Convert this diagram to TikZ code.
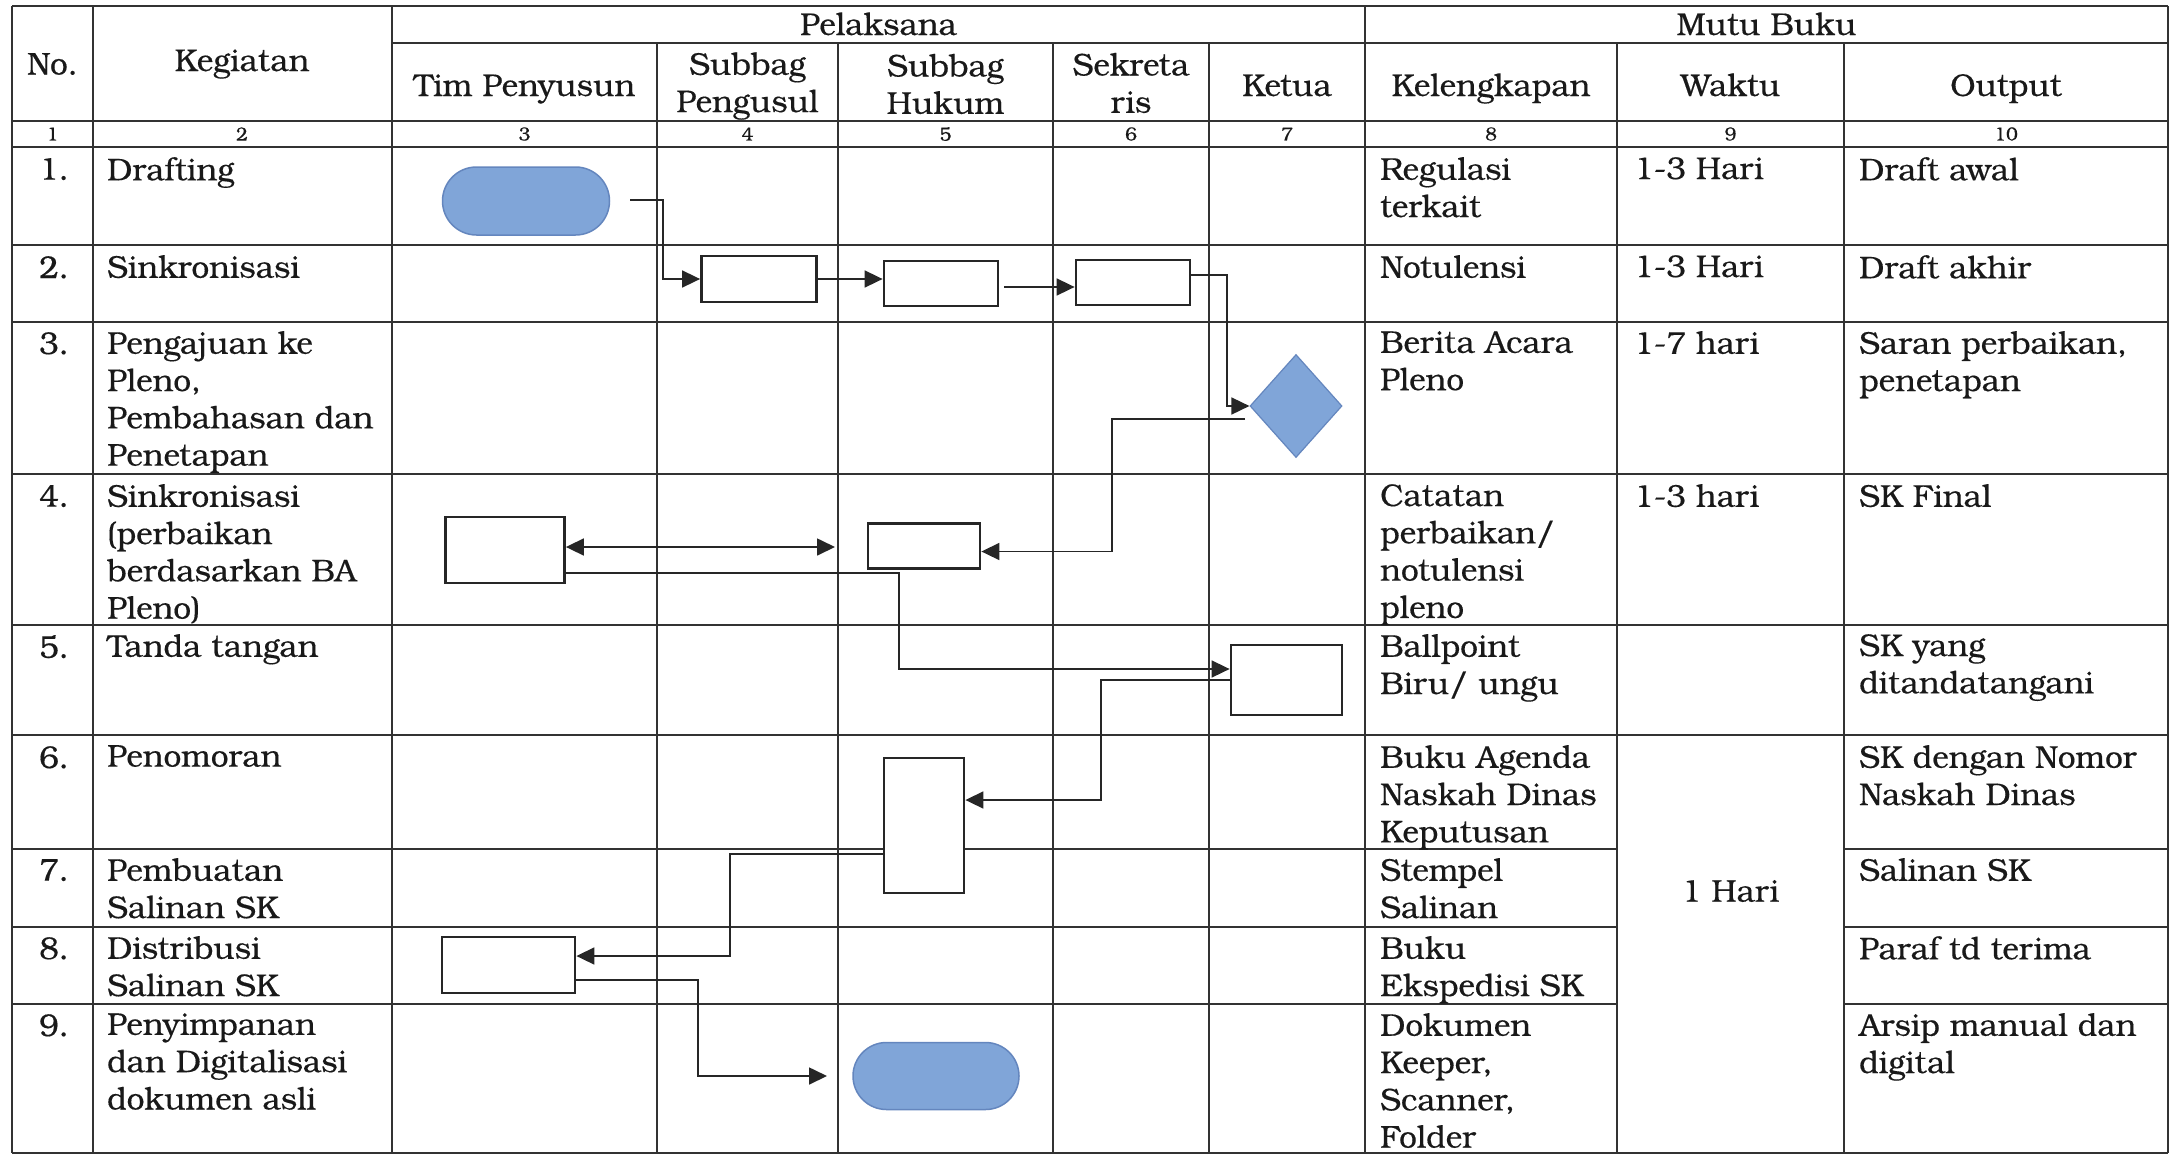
\documentclass[tikz,border=0pt]{standalone}
\usepackage{fontspec}
\setmainfont{TeX Gyre Bonum}[FakeBold=0.35]
\usetikzlibrary{arrows.meta,shapes.geometric,shapes.misc}
\definecolor{termblue}{RGB}{128,165,216}
\definecolor{termedge}{RGB}{100,134,190}
\definecolor{gridcol}{RGB}{50,50,50}
\definecolor{inkcol}{RGB}{25,25,25}
\newcommand{\myfnt}{\fontsize{31.5}{37.3}\selectfont}
\newcommand{\mysmallfnt}{\fontsize{19}{21}\selectfont}
\begin{document}
\begin{tikzpicture}[x=1pt,y=-1pt,
  gridline/.style={line width=1.6pt, draw=gridcol},
  txt/.style={anchor=north west, inner sep=0pt, align=left, font=\myfnt, text=inkcol},
  numtxt/.style={anchor=north, inner sep=0pt, align=center, font=\myfnt, text=inkcol},
  hdr/.style={anchor=center, inner sep=0pt, align=center, font=\myfnt, text=inkcol},
  hdrb/.style={anchor=base, inner sep=0pt, align=center, font=\myfnt, text=inkcol},
  colnum/.style={anchor=center, inner sep=0pt, font=\mysmallfnt, text=inkcol},
  procbox/.style={draw=black!85, line width=2.8pt, fill=white, inner sep=0pt},
  term/.style={rounded rectangle, fill=termblue, draw=termedge, line width=1.5pt, inner sep=0pt, minimum width=167pt, minimum height=68pt},
  decis/.style={diamond, fill=termblue, draw=termedge, line width=1.2pt, inner sep=0pt, minimum width=92pt, minimum height=103pt},
  tip/.tip={Triangle[length=18pt,width=17pt]},
  conn/.style={line width=1.7pt, draw=black!85, -tip},
  dconn/.style={line width=1.7pt, draw=black!85, tip-tip}
]
\useasboundingbox (0,0) rectangle (2175,1154);
\fill[white] (0,0) rectangle (2175,1154);

% ---------- grid ----------
\foreach \x in {12,93,392,1365,2168} \draw[gridline] (\x,6) -- (\x,1153);
\foreach \x in {657,838,1053,1209,1617,1844} \draw[gridline] (\x,43) -- (\x,1153);
\draw[gridline] (12,6) -- (2168,6);
\draw[gridline] (392,43) -- (2168,43);
\foreach \y in {121,147,245,322,474,625,735,1153} \draw[gridline] (12,\y) -- (2168,\y);
\foreach \y in {849,927,1004} {
  \draw[gridline] (12,\y) -- (1617,\y);
  \draw[gridline] (1844,\y) -- (2168,\y);
}

% ---------- header ----------
\node[hdr] (hNo) at (52.5,64) {No.};
\node[hdr] (hKeg) at (242,64) {Kegiatan};
\node[hdrb] (hPel) at (878.5,35) {Pelaksana};
\node[hdrb] (hMutu) at (1766.5,35) {Mutu Buku};
\node[hdrb] (hTim) at (524.5,96) {Tim Penyusun};
\node[hdr] (hSP) at (747.5,86) {Subbag\\Pengusul};
\node[hdr] (hSH) at (945.5,84) {Subbag\\Hukum};
\node[hdr] (hSek) at (1131,83) {Sekreta\\ris};
\node[hdrb] (hKet) at (1287,96) {Ketua};
\node[hdrb] (hKel) at (1491,96) {Kelengkapan};
\node[hdrb] (hWak) at (1730.5,96) {Waktu};
\node[hdrb] (hOut) at (2006,96) {Output};

% column numbers
\node[colnum] (n1) at (52.5,134) {1};
\node[colnum] (n2) at (242,134) {2};
\node[colnum] (n3) at (524.5,134) {3};
\node[colnum] (n4) at (747.5,134) {4};
\node[colnum] (n5) at (945.5,134) {5};
\node[colnum] (n6) at (1131,134) {6};
\node[colnum] (n7) at (1287,134) {7};
\node[colnum] (n8) at (1491,134) {8};
\node[colnum] (n9) at (1730.5,134) {9};
\node[colnum] (n10) at (2006,134) {10};

% ---------- row numbers ----------
\node[numtxt] (r1) at (54,158) {1.};
\node[numtxt] (r2) at (54,256) {2.};
\node[numtxt] (r3) at (54,332) {3.};
\node[numtxt] (r4) at (54,485) {4.};
\node[numtxt] (r5) at (54,635) {5.};
\node[numtxt] (r6) at (54,746) {6.};
\node[numtxt] (r7) at (54,859) {7.};
\node[numtxt] (r8) at (54,937) {8.};
\node[numtxt] (r9) at (54,1014) {9.};

% ---------- Kegiatan ----------
\node[txt] (k1) at (107,157) {Drafting};
\node[txt] (k2) at (107,255) {Sinkronisasi};
\node[txt] (k3) at (107,331) {Pengajuan ke\\Pleno,\\Pembahasan dan\\Penetapan};
\node[txt] (k4) at (107,484) {Sinkronisasi\\(perbaikan\\berdasarkan BA\\Pleno)};
\node[txt] (k5) at (107,634) {Tanda tangan};
\node[txt] (k6) at (107,745) {Penomoran};
\node[txt] (k7) at (107,858) {Pembuatan\\Salinan SK};
\node[txt] (k8) at (107,936) {Distribusi\\Salinan SK};
\node[txt] (k9) at (107,1013) {Penyimpanan\\dan Digitalisasi\\dokumen asli};

% ---------- Kelengkapan ----------
\node[txt] (l1) at (1380,157) {Regulasi\\terkait};
\node[txt] (l2) at (1380,255) {Notulensi};
\node[txt] (l3) at (1380,331) {Berita Acara\\Pleno};
\node[txt] (l4) at (1380,484) {Catatan\\perbaikan/\\notulensi\\pleno};
\node[txt] (l5) at (1380,634) {Ballpoint\\Biru/ ungu};
\node[txt] (l6) at (1380,745) {Buku Agenda\\Naskah Dinas\\Keputusan};
\node[txt] (l7) at (1380,858) {Stempel\\Salinan};
\node[txt] (l8) at (1380,936) {Buku\\Ekspedisi SK};
\node[txt] (l9) at (1380,1013) {Dokumen\\Keeper,\\Scanner,\\Folder};

% ---------- Waktu ----------
\node[txt] (w1) at (1634,157) {1-3 Hari};
\node[txt] (w2) at (1634,255) {1-3 Hari};
\node[txt] (w3) at (1634,331) {1-7 hari};
\node[txt] (w4) at (1634,484) {1-3 hari};
\node[hdr] (w5) at (1730.5,891) {1 Hari};

% ---------- Output ----------
\node[txt] (o1) at (1859,157) {Draft awal};
\node[txt] (o2) at (1859,255) {Draft akhir};
\node[txt] (o3) at (1859,331) {Saran perbaikan,\\penetapan};
\node[txt] (o4) at (1859,484) {SK Final};
\node[txt] (o5) at (1859,634) {SK yang\\ditandatangani};
\node[txt] (o6) at (1859,745) {SK dengan Nomor\\Naskah Dinas};
\node[txt] (o7) at (1859,858) {Salinan SK};
\node[txt] (o8) at (1859,936) {Paraf td terima};
\node[txt] (o9) at (1859,1013) {Arsip manual dan\\digital};

% ---------- flow shapes ----------
\node[term] (t1) at (526,201) {};
\node[procbox, minimum width=115pt, minimum height=46pt] (A) at (759,279) {};
\node[procbox, minimum width=114pt, minimum height=45pt] (B) at (941,283.5) {};
\node[procbox, minimum width=114pt, minimum height=45pt] (C) at (1133,282.5) {};
\node[decis] (dia) at (1296,406) {};
\node[procbox, minimum width=112pt, minimum height=45pt] (D) at (924,546) {};
\node[procbox, minimum width=119pt, minimum height=66pt] (E) at (505,550) {};
\node[procbox, minimum width=111pt, minimum height=70pt] (F) at (1286.5,680) {};
\node[procbox, minimum width=80pt, minimum height=135pt] (G) at (924,825.5) {};
\node[procbox, minimum width=133pt, minimum height=56pt] (H) at (508.5,965) {};
\node[term, minimum width=166pt, minimum height=67pt] (t2) at (936,1076) {};

% free ends
\coordinate (c1) at (630,200);
\coordinate (c2) at (1004,287);
\coordinate (c3) at (1245,419);
\coordinate (c4) at (835,547);
\coordinate (c5) at (827,1076);

% ---------- connectors ----------
\draw[conn] (c1) -- (663,200) |- (A.west);
\draw[conn] (A.east) -- (A.east -| B.west);
\draw[conn] (c2) -- (c2 -| C.west);
\draw[conn] ([yshift=7.5pt]C.east) -| (1227,406) -- (dia.west);
\draw[conn] (c3) -- (1112,419) |- ([yshift=-5.5pt]D.east);
\draw[dconn] ([yshift=3pt]E.east) -- (c4);
\draw[conn] ([yshift=-23pt]E.east) -- (899,573) |- ([yshift=11pt]F.west);
\draw[conn] (F.west) -- (1101,680) |- ([yshift=25.5pt]G.east);
\draw[conn] ([yshift=-28.5pt]G.west) -- (730,854) |- ([yshift=9pt]H.east);
\draw[conn] ([yshift=-15pt]H.east) -- (698,980) |- (c5);
\end{tikzpicture}
\end{document}
